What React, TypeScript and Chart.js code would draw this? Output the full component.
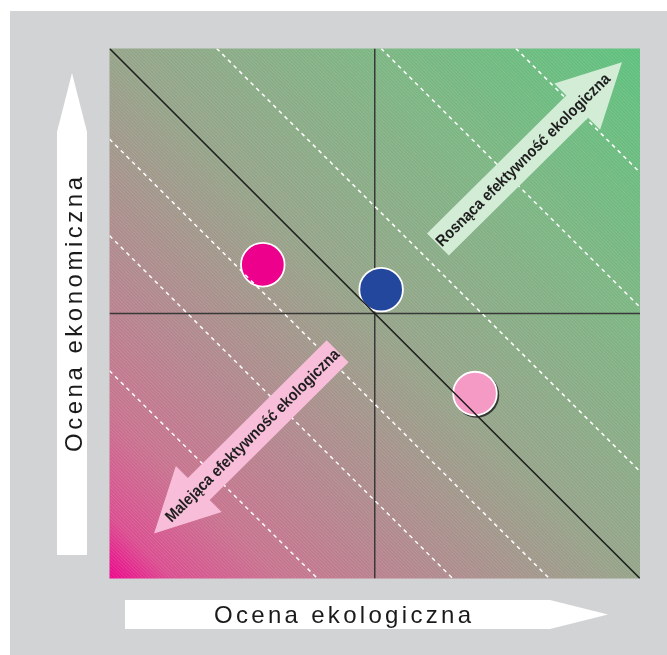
import { useEffect, useRef } from "react";
import { Chart, registerables } from "chart.js";
Chart.register(...registerables);

// ---- data ----
const xAxisTitle = "Ocena ekologiczna";
const yAxisTitle = "Ocena ekonomiczna";
const axisMin = -5;
const axisMax = 5;

const pointNames = ["Produkt A", "Produkt B", "Produkt C"];
const pointX = [-2.11, 0.12, 1.89];
const pointY = [0.92, 0.45, -1.51];
const pointColors = ["#ec008c", "#24479e", "#f49ac4"];
const pointShadow = [false, false, true];

const mainDiagonal = 0; // x + y = k
const dashedDiagonals = [-6.08, -3.53, -1.71, 2.02, 5.12, 7.66];
const quadrantX = 0;
const quadrantY = 0;

const arrowLabels = ["Rosnąca efektywność ekologiczna", "Malejąca efektywność ekologiczna"];
const arrowTailX = [1.19, -0.7];
const arrowTailY = [1.3, -0.71];
const arrowTipX = [4.66, -4.16];
const arrowTipY = [4.74, -4.15];
const arrowColors = ["#d3ecd6", "#f7bdd9"];

function diagSegment(k: number) {
  const x0 = Math.max(axisMin, k - axisMax);
  const x1 = Math.min(axisMax, k - axisMin);
  return [
    { x: x0, y: k - x0 },
    { x: x1, y: k - x1 },
  ];
}

function drawSpaced(ctx: CanvasRenderingContext2D, text: string, x: number, y: number, target: number) {
  const chars = Array.from(text);
  const widths = chars.map((c) => ctx.measureText(c).width);
  const sum = widths.reduce((a, b) => a + b, 0);
  const sp = chars.length > 1 ? (target - sum) / (chars.length - 1) : 0;
  let cx = x;
  chars.forEach((c, i) => {
    ctx.fillText(c, cx, y);
    cx += widths[i] + sp;
  });
}

const backgroundPlugin = {
  id: "bg",
  beforeDraw(chart: any) {
    const { ctx, chartArea: a, width, height } = chart;
    ctx.save();
    ctx.fillStyle = "#d2d3d5";
    ctx.fillRect(10, 11, width - 10, height - 11);
    const g = ctx.createLinearGradient(a.left, a.bottom, a.right, a.top);
    g.addColorStop(0, "#ec068c");
    g.addColorStop(0.06, "#da4f90");
    g.addColorStop(0.16, "#c8738f");
    g.addColorStop(0.3, "#b2888e");
    g.addColorStop(0.5, "#95a489");
    g.addColorStop(0.75, "#7cb683");
    g.addColorStop(1, "#5ec17d");
    ctx.fillStyle = g;
    ctx.fillRect(a.left, a.top, a.right - a.left, a.bottom - a.top);
    ctx.beginPath();
    ctx.rect(a.left, a.top, a.right - a.left, a.bottom - a.top);
    ctx.clip();
    ctx.strokeStyle = "rgba(255,255,255,0.13)";
    ctx.lineWidth = 1;
    ctx.beginPath();
    for (let c = a.left - a.bottom; c < a.right - a.top; c += 3.4) {
      ctx.moveTo(a.top + c, a.top);
      ctx.lineTo(a.bottom + c, a.bottom);
    }
    ctx.stroke();
    ctx.restore();
  },
  beforeDatasetDraw(chart: any, args: any) {
    const ds = chart.data.datasets[args.index];
    if (ds.label !== "points") return;
    const ctx = chart.ctx;
    const meta = chart.getDatasetMeta(args.index);
    ctx.save();
    meta.data.forEach((el: any, i: number) => {
      if (!pointShadow[i]) return;
      ctx.fillStyle = "rgba(35,35,35,0.85)";
      ctx.beginPath();
      ctx.arc(el.x + 1.6, el.y + 1.6, 22.6, 0, Math.PI * 2);
      ctx.fill();
    });
    ctx.restore();
  },
  afterDatasetsDraw(chart: any) {
    const { ctx, scales } = chart;
    const xs = scales.x;
    const ys = scales.y;
    const shaftW = 31;
    const headW = 65;
    const headL = 63;
    arrowLabels.forEach((label, i) => {
      const tx = xs.getPixelForValue(arrowTailX[i]);
      const ty = ys.getPixelForValue(arrowTailY[i]);
      const px = xs.getPixelForValue(arrowTipX[i]);
      const py = ys.getPixelForValue(arrowTipY[i]);
      const len = Math.hypot(px - tx, py - ty);
      const dx = (px - tx) / len;
      const dy = (py - ty) / len;
      const nx = -dy;
      const ny = dx;
      const bx = px - dx * headL;
      const by = py - dy * headL;
      ctx.save();
      ctx.fillStyle = arrowColors[i];
      ctx.beginPath();
      ctx.moveTo(tx + nx * shaftW / 2, ty + ny * shaftW / 2);
      ctx.lineTo(bx + nx * shaftW / 2, by + ny * shaftW / 2);
      ctx.lineTo(bx + nx * headW / 2, by + ny * headW / 2);
      ctx.lineTo(px, py);
      ctx.lineTo(bx - nx * headW / 2, by - ny * headW / 2);
      ctx.lineTo(bx - nx * shaftW / 2, by - ny * shaftW / 2);
      ctx.lineTo(tx - nx * shaftW / 2, ty - ny * shaftW / 2);
      ctx.closePath();
      ctx.fill();
      // label
      const cx = tx + dx * 120;
      const cy = ty + dy * 120;
      let ang = Math.atan2(dy, dx);
      if (Math.abs(ang) > Math.PI / 2) ang += Math.PI;
      ctx.translate(cx, cy);
      ctx.rotate(ang);
      ctx.font = "bold 16px 'Liberation Sans', Arial, sans-serif";
      const w = ctx.measureText(label).width;
      ctx.scale(238 / w, 1);
      ctx.fillStyle = "#1e1e1e";
      ctx.textAlign = "center";
      ctx.textBaseline = "middle";
      ctx.fillText(label, 0, 0.5);
      ctx.restore();
    });
  },
  afterDraw(chart: any) {
    const ctx = chart.ctx;
    ctx.save();
    ctx.fillStyle = "#ffffff";
    // vertical axis arrow
    ctx.beginPath();
    ctx.moveTo(72, 73);
    ctx.lineTo(87, 132);
    ctx.lineTo(87, 555);
    ctx.lineTo(57, 555);
    ctx.lineTo(57, 132);
    ctx.closePath();
    ctx.fill();
    // horizontal axis arrow
    ctx.beginPath();
    ctx.moveTo(125, 600);
    ctx.lineTo(550, 600);
    ctx.lineTo(608, 614.5);
    ctx.lineTo(550, 629);
    ctx.lineTo(125, 629);
    ctx.closePath();
    ctx.fill();
    ctx.fillStyle = "#1a1a1a";
    ctx.font = "24px 'Liberation Sans', Arial, sans-serif";
    ctx.textAlign = "left";
    ctx.textBaseline = "alphabetic";
    drawSpaced(ctx, xAxisTitle, 214, 623, 257);
    ctx.translate(81.5, 452);
    ctx.rotate(-Math.PI / 2);
    drawSpaced(ctx, yAxisTitle, 0, 0, 275);
    ctx.restore();
  },
};

export default function App() {
  const ref = useRef<HTMLCanvasElement | null>(null);
  useEffect(() => {
    if (!ref.current) return;
    const datasets: any[] = [];
    datasets.push({
      label: "diag",
      data: diagSegment(mainDiagonal),
      showLine: true,
      borderColor: "#1c1c1c",
      borderWidth: 1.5,
      pointRadius: 0,
      order: 1,
    });
    dashedDiagonals.forEach((k) =>
      datasets.push({
        label: "dashed",
        data: diagSegment(k),
        showLine: true,
        borderColor: "#ffffff",
        borderWidth: 1.5,
        borderDash: [4, 4],
        pointRadius: 0,
        order: 1,
      })
    );
    datasets.push({
      label: "points",
      data: pointX.map((x, i) => ({ x, y: pointY[i], name: pointNames[i] })),
      backgroundColor: pointColors,
      borderColor: "#ffffff",
      borderWidth: 1.8,
      pointRadius: 21.8,
      pointHoverRadius: 21.8,
      order: 2,
    });
    datasets.push({
      label: "vline",
      data: [
        { x: quadrantX, y: axisMin },
        { x: quadrantX, y: axisMax },
      ],
      showLine: true,
      borderColor: "#383838",
      borderWidth: 1.5,
      pointRadius: 0,
      order: 3,
    });
    datasets.push({
      label: "hline",
      data: [
        { x: axisMin, y: quadrantY },
        { x: axisMax, y: quadrantY },
      ],
      showLine: true,
      borderColor: "#383838",
      borderWidth: 1.5,
      pointRadius: 0,
      order: 3,
    });
    const chart = new Chart(ref.current, {
      type: "scatter",
      data: { datasets },
      options: {
        animation: false,
        responsive: false,
        events: [],
        layout: { padding: { left: 109.5, right: 27, top: 48.5, bottom: 76.5 } },
        scales: {
          x: { type: "linear", min: axisMin, max: axisMax, display: false },
          y: { type: "linear", min: axisMin, max: axisMax, display: false },
        },
        plugins: { legend: { display: false }, tooltip: { enabled: false } },
      },
      plugins: [backgroundPlugin],
    });
    return () => chart.destroy();
  }, []);
  return (
    <div style={{ position: "absolute", left: 0, top: 0, width: 667, height: 655 }}>
      <canvas ref={ref} width={667} height={655} style={{ display: "block", width: 667, height: 655 }} />
    </div>
  );
}
